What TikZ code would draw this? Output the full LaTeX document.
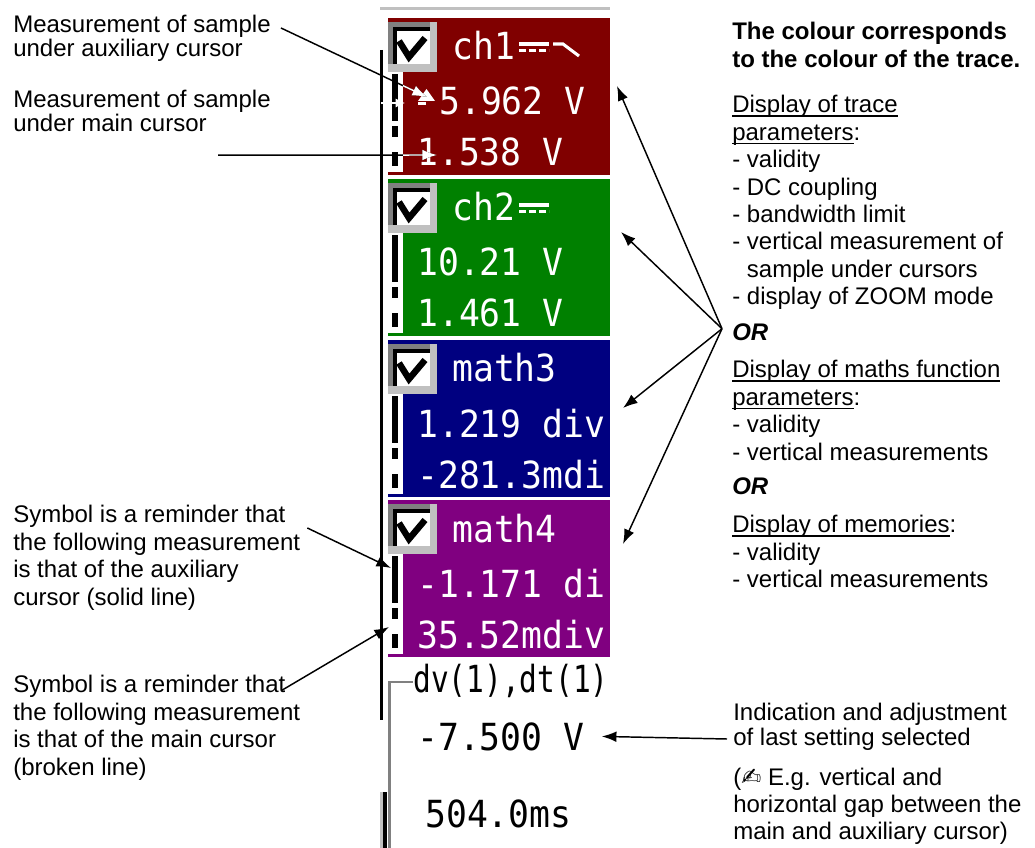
\documentclass[tikz,border=0pt]{standalone}
\usepackage{fontspec}
\setmainfont{Liberation Sans}
\newfontfamily\lcdfont[FakeStretch=0.93]{DejaVu Sans Mono}
\newfontfamily\lcdnarrow[FakeStretch=0.79]{DejaVu Sans Mono}
\newfontfamily\glyphfont{DejaVu Sans}
\usepackage{tikz}
\usetikzlibrary{arrows.meta}
\definecolor{chred}{HTML}{800000}
\definecolor{chgreen}{HTML}{008000}
\definecolor{mathblue}{HTML}{000080}
\definecolor{mathpurple}{HTML}{800080}
\definecolor{darkbevel}{HTML}{808080}
\definecolor{silvergray}{HTML}{C0C0C0}
\newsavebox\ulbox
\newcommand{\ulwords}[1]{\sbox\ulbox{#1}\rlap{\rule[-3pt]{\wd\ulbox}{1.1pt}}\usebox\ulbox}
\tikzset{
  note/.style={inner sep=0pt,anchor=north west,align=left,font=\fontsize{18pt}{20.6pt}\selectfont},
  lcd/.style={inner sep=0pt,anchor=base west,font=\fontsize{28pt}{32pt}\lcdfont},
  callout/.style={line width=1.1pt,-{Latex[length=11pt,width=8pt]}}
}

\begin{document}
\begin{tikzpicture}[x=0.75pt,y=-0.75pt]
\fill[white] (0,0) rectangle (1035,848);
\useasboundingbox (0,0) rectangle (1035,848);

\draw[silvergray,line width=2.3pt] (380,8.7) -- (610,8.7);
\foreach \ptop/\col in {18/chred,179/chgreen,340/mathblue,500/mathpurple}{
  \fill[\col] (388,\ptop) rectangle (610,\ptop+157);
  \fill[white] (388,\ptop+4) rectangle (403,\ptop+154);
  \fill[silvergray] (388,\ptop+4) rectangle (437,\ptop+54);
  \fill[darkbevel] (388,\ptop+4) rectangle (430,\ptop+46);
  \fill[black] (393,\ptop+9) rectangle (430,\ptop+46);
  \fill[white] (397,\ptop+13) rectangle (430,\ptop+46);
  \draw[line width=4.8pt] (399,\ptop+23) -- (409,\ptop+39) -- (425,\ptop+20);
  \fill (392,\ptop+56) rectangle (398,\ptop+103);
  \fill (392,\ptop+108) rectangle (398,\ptop+119);
  \fill (392,\ptop+134) rectangle (398,\ptop+148);
}
\draw[line width=2.6pt] (381.5,50) -- (381.5,720);
\draw[darkbevel,line width=2.2pt] (413,682) -- (389.5,682) -- (389.5,848);
\fill[silvergray] (380,792) rectangle (383,848);
\fill (383,792) rectangle (387,848);

\node[lcd,white] (ch1title) at (452,60) {ch1};
\node[lcd,white] (ch1aux) at (439,115) {5.962 V};
\node[lcd,white] (ch1main) at (417,166) {1.538 V};
\node[lcd,white] (ch2title) at (452,221) {ch2};
\node[lcd,white] (ch2aux) at (417,276) {10.21 V};
\node[lcd,white] (ch2main) at (417,327) {1.461 V};
\node[lcd,white] (math3title) at (452,382) {math3};
\node[lcd,white] (math3aux) at (417,437) {1.219 div};
\node[lcd,white] (math3main) at (417,488) {-281.3mdi};
\node[lcd,white] (math4title) at (452,542) {math4};
\node[lcd,white] (math4aux) at (417,597) {-1.171 di};
\node[lcd,white] (math4main) at (417,648) {35.52mdiv};
\draw[white,line width=2.3pt] (519,44) -- (549,44);
\draw[white,line width=2.3pt,dash pattern=on 5pt off 2.5pt] (519,50.5) -- (549,50.5);
\draw[white,line width=2.3pt] (553,44) -- (563,44) -- (579,56);
\draw[white,line width=2.3pt] (519,205) -- (549,205);
\draw[white,line width=2.3pt,dash pattern=on 5pt off 2.5pt] (519,211.5) -- (549,211.5);
\fill[white] (418,101) -- (435,101) -- (426.5,89) -- cycle;
\fill[white] (418,102.5) rectangle (426,105);

\node[lcd,font=\fontsize{28pt}{32pt}\lcdnarrow] (cursorgap) at (413,692) {dv(1),dt(1)};
\node[lcd] (setval) at (417,750) {-7.500 V};
\node[lcd] (timeval) at (425,827) {504.0ms};

\node[note,font=\fontsize{18pt}{18pt}\selectfont] (auxnote) at (13,15) {Measurement of sample\\under auxiliary cursor};
\node[note,font=\fontsize{18pt}{18pt}\selectfont] (mainnote) at (13,90) {Measurement of sample\\under main cursor};
\node[note] (solidnote) at (13,505) {Symbol is a reminder that\\the following measurement\\is that of the auxiliary\\cursor (solid line)};
\node[note] (brokennote) at (13,675) {Symbol is a reminder that\\the following measurement\\is that of the main cursor\\(broken line)};

\node[note,font=\bfseries\fontsize{18pt}{21pt}\selectfont] (colournote) at (732,22) {The colour corresponds\\to the colour of the trace.};
\node[note] (tracenote) at (732,95) {\ulwords{Display of trace}\\\ulwords{parameters}:\\- validity\\- DC coupling\\- bandwidth limit\\- vertical measurement of\\\phantom{- }sample under cursors\\- display of ZOOM mode};
\node[note,anchor=base west,font=\bfseries\itshape\fontsize{18pt}{20.6pt}\selectfont] (or1) at (732,341) {OR};
\node[note] (mathnote) at (732,360) {\ulwords{Display of maths function}\\\ulwords{parameters}:\\- validity\\- vertical measurements};
\node[note,anchor=base west,font=\bfseries\itshape\fontsize{18pt}{20.6pt}\selectfont] (or2) at (732,494) {OR};
\node[note] (memnote) at (732,515) {\ulwords{Display of memories}:\\- validity\\- vertical measurements};
\node[note,font=\fontsize{18pt}{18.75pt}\selectfont] (setnote) at (733,703) {Indication and adjustment\\of last setting selected};
\node[note,font=\fontsize{18pt}{20.25pt}\selectfont] (egnote) at (733,768) {({\glyphfont ✍} E.g. vertical and\\horizontal gap between the\\main and auxiliary cursor)};

\coordinate (auxtip) at (427,97);
\coordinate (maintip) at (437,155);
\coordinate (solidtip) at (391,568);
\coordinate (brokentip) at (389,627);
\coordinate (redtip) at (617,86);
\coordinate (greentip) at (621,232);
\coordinate (bluetip) at (623,408);
\coordinate (purpletip) at (623,544);
\coordinate (fan) at ([shift={(-10,-4)}]or1.west);
\coordinate (settip) at ([shift={(17,0)}]setval.east);
\coordinate (markl) at (381,103);
\coordinate (markr) at (405,103);

\draw[callout] ([shift={(10,13)}]auxnote.north east) -- (auxtip);
\draw[callout] ([shift={(205,23)}]mainnote.south west) -- (maintip);
\draw[callout] ([shift={(7,23)}]solidnote.north east) -- (solidtip);
\draw[callout] ([shift={(-18,15)}]brokennote.north east) -- (brokentip);
\foreach \tip in {redtip,greentip,bluetip,purpletip}
  \draw[callout] (fan) -- (\tip);
\draw[callout] ([shift={(-6,36)}]setnote.north west) -- (settip);
\begin{scope}
\clip (403,18) rectangle (610,175);
\draw[callout,white] ([shift={(10,13)}]auxnote.north east) -- (auxtip);
\draw[callout,white] ([shift={(205,23)}]mainnote.south west) -- (maintip);
\end{scope}
\draw[white,line width=1.1pt,-{Latex[length=7pt,width=7pt]}] (markl) -- (markr);
\end{tikzpicture}
\end{document}
